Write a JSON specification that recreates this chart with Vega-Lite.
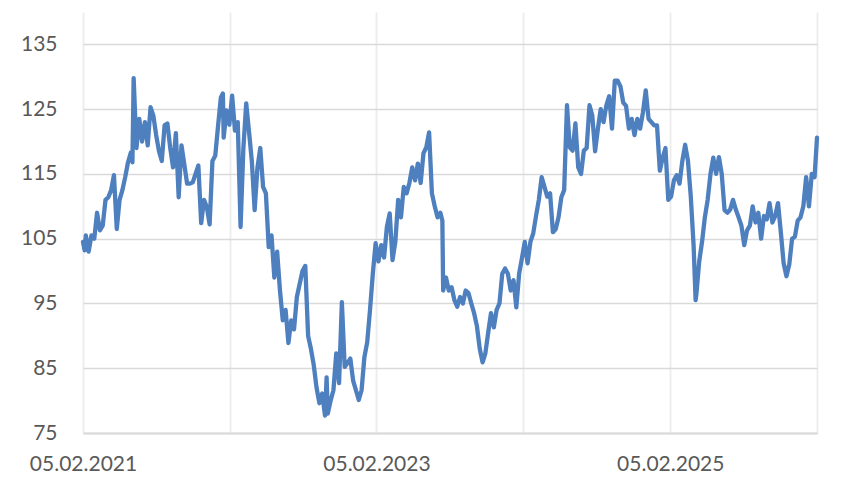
{
  "$schema": "https://vega.github.io/schema/vega-lite/v6.json",
  "autosize": {"type": "none"},
  "padding": {"left": 83, "top": 12, "right": 33, "bottom": 47},
  "width": 734,
  "height": 421,
  "background": "#ffffff",
  "config": {
    "view": {"stroke": null},
    "font": "Lato",
    "axis": {"labelFont": "Lato", "labelFontSize": 21, "labelColor": "#595959", "labelFontWeight": "normal", "title": null}
  },
  "data": {"values": [
    {"date":"2021-02-05","v":104.5},{"date":"2021-02-09","v":103.2},{"date":"2021-02-12","v":105.5},{"date":"2021-02-19","v":103},{"date":"2021-02-26","v":105.5},
    {"date":"2021-03-05","v":105},{"date":"2021-03-12","v":109},{"date":"2021-03-19","v":106.3},{"date":"2021-03-26","v":107},
    {"date":"2021-04-02","v":111},{"date":"2021-04-09","v":111.4},{"date":"2021-04-16","v":112.5},{"date":"2021-04-23","v":114.8},{"date":"2021-04-30","v":106.5},
    {"date":"2021-05-07","v":111},{"date":"2021-05-14","v":112.5},{"date":"2021-05-21","v":114.5},{"date":"2021-05-28","v":116.8},
    {"date":"2021-06-04","v":118.3},{"date":"2021-06-08","v":116.8},{"date":"2021-06-11","v":129.8},{"date":"2021-06-18","v":119},{"date":"2021-06-25","v":123.5},
    {"date":"2021-07-02","v":120},{"date":"2021-07-09","v":123},{"date":"2021-07-16","v":119.4},{"date":"2021-07-23","v":125.3},{"date":"2021-07-30","v":124},
    {"date":"2021-08-06","v":121},{"date":"2021-08-13","v":118.5},{"date":"2021-08-20","v":117},{"date":"2021-08-27","v":122.5},
    {"date":"2021-09-03","v":122.8},{"date":"2021-09-10","v":119},{"date":"2021-09-17","v":116},{"date":"2021-09-24","v":121.3},
    {"date":"2021-10-01","v":111.4},{"date":"2021-10-08","v":119.4},{"date":"2021-10-15","v":116.5},{"date":"2021-10-22","v":113.5},{"date":"2021-10-29","v":113.5},
    {"date":"2021-11-05","v":113.7},{"date":"2021-11-12","v":115},{"date":"2021-11-19","v":116.3},{"date":"2021-11-26","v":107.4},
    {"date":"2021-12-03","v":111},{"date":"2021-12-10","v":109.9},{"date":"2021-12-17","v":107.2},{"date":"2021-12-24","v":117},{"date":"2021-12-31","v":117.8},
    {"date":"2022-01-07","v":122.4},{"date":"2022-01-14","v":126.8},{"date":"2022-01-19","v":127.4},{"date":"2022-01-21","v":120.6},{"date":"2022-01-28","v":124.8},
    {"date":"2022-02-04","v":122.6},{"date":"2022-02-11","v":127.1},{"date":"2022-02-18","v":121.7},{"date":"2022-02-25","v":123},
    {"date":"2022-03-04","v":106.8},{"date":"2022-03-11","v":119},{"date":"2022-03-18","v":125.9},{"date":"2022-03-25","v":121.5},
    {"date":"2022-04-01","v":117},{"date":"2022-04-08","v":109.4},{"date":"2022-04-15","v":116},{"date":"2022-04-22","v":119},{"date":"2022-04-29","v":113},
    {"date":"2022-05-06","v":112},{"date":"2022-05-13","v":103.7},{"date":"2022-05-20","v":105.5},{"date":"2022-05-27","v":99},
    {"date":"2022-06-03","v":103},{"date":"2022-06-10","v":97},{"date":"2022-06-17","v":92.4},{"date":"2022-06-24","v":94},
    {"date":"2022-07-01","v":88.9},{"date":"2022-07-08","v":92.4},{"date":"2022-07-15","v":91},{"date":"2022-07-22","v":96},{"date":"2022-07-29","v":98},
    {"date":"2022-08-05","v":100},{"date":"2022-08-12","v":100.8},{"date":"2022-08-19","v":90},{"date":"2022-08-26","v":88},
    {"date":"2022-09-02","v":85.5},{"date":"2022-09-09","v":82},{"date":"2022-09-16","v":79.6},{"date":"2022-09-23","v":81.1},{"date":"2022-09-30","v":77.7},
    {"date":"2022-10-04","v":83.6},{"date":"2022-10-07","v":78},{"date":"2022-10-14","v":80},{"date":"2022-10-21","v":81.6},{"date":"2022-10-28","v":87.3},
    {"date":"2022-11-04","v":82.7},{"date":"2022-11-11","v":95.2},{"date":"2022-11-18","v":85.2},{"date":"2022-11-25","v":85.8},
    {"date":"2022-12-02","v":86.5},{"date":"2022-12-09","v":83.1},{"date":"2022-12-16","v":81.6},{"date":"2022-12-23","v":80.1},{"date":"2022-12-30","v":81.6},
    {"date":"2023-01-06","v":86.7},{"date":"2023-01-13","v":89},{"date":"2023-01-20","v":94},{"date":"2023-01-27","v":99.6},
    {"date":"2023-02-03","v":104.3},{"date":"2023-02-10","v":101.5},{"date":"2023-02-17","v":104},{"date":"2023-02-24","v":102.1},
    {"date":"2023-03-03","v":106.8},{"date":"2023-03-10","v":108.9},{"date":"2023-03-17","v":101.7},{"date":"2023-03-24","v":104.5},{"date":"2023-03-31","v":111},
    {"date":"2023-04-07","v":108.3},{"date":"2023-04-14","v":113},{"date":"2023-04-21","v":112},{"date":"2023-04-28","v":113.6},
    {"date":"2023-05-05","v":116},{"date":"2023-05-12","v":114},{"date":"2023-05-19","v":116.6},{"date":"2023-05-26","v":113.6},
    {"date":"2023-06-02","v":118.2},{"date":"2023-06-09","v":119.1},{"date":"2023-06-16","v":121.4},{"date":"2023-06-23","v":112},{"date":"2023-06-30","v":110},
    {"date":"2023-07-07","v":108.3},{"date":"2023-07-14","v":109},{"date":"2023-07-19","v":107.8},{"date":"2023-07-21","v":97},{"date":"2023-07-28","v":99},
    {"date":"2023-08-04","v":97},{"date":"2023-08-11","v":97.5},{"date":"2023-08-18","v":95.5},{"date":"2023-08-25","v":94.5},
    {"date":"2023-09-01","v":96},{"date":"2023-09-08","v":95},{"date":"2023-09-15","v":97},{"date":"2023-09-22","v":96.6},{"date":"2023-09-29","v":95},
    {"date":"2023-10-06","v":93.5},{"date":"2023-10-13","v":91.5},{"date":"2023-10-20","v":88},{"date":"2023-10-27","v":85.9},
    {"date":"2023-11-03","v":87.3},{"date":"2023-11-10","v":90.5},{"date":"2023-11-17","v":93.5},{"date":"2023-11-24","v":91.3},
    {"date":"2023-12-01","v":94},{"date":"2023-12-08","v":95},{"date":"2023-12-15","v":99.6},{"date":"2023-12-22","v":100.4},{"date":"2023-12-29","v":99.6},
    {"date":"2024-01-05","v":97},{"date":"2024-01-12","v":98.6},{"date":"2024-01-19","v":94.4},{"date":"2024-01-26","v":99.6},
    {"date":"2024-02-02","v":102},{"date":"2024-02-09","v":104.5},{"date":"2024-02-16","v":101.2},{"date":"2024-02-23","v":104.5},
    {"date":"2024-03-01","v":105.8},{"date":"2024-03-08","v":108.5},{"date":"2024-03-15","v":111},{"date":"2024-03-22","v":114.5},{"date":"2024-03-29","v":113},
    {"date":"2024-04-05","v":111.5},{"date":"2024-04-12","v":112},{"date":"2024-04-19","v":106},{"date":"2024-04-26","v":106.5},
    {"date":"2024-05-03","v":108.3},{"date":"2024-05-10","v":111.4},{"date":"2024-05-17","v":112.5},{"date":"2024-05-24","v":125.6},{"date":"2024-05-31","v":119.1},
    {"date":"2024-06-07","v":118.6},{"date":"2024-06-14","v":122.8},{"date":"2024-06-21","v":116},{"date":"2024-06-28","v":115},
    {"date":"2024-07-05","v":118.6},{"date":"2024-07-12","v":119},{"date":"2024-07-19","v":125.6},{"date":"2024-07-26","v":124},
    {"date":"2024-08-02","v":118.5},{"date":"2024-08-09","v":122},{"date":"2024-08-16","v":125},{"date":"2024-08-23","v":123},{"date":"2024-08-30","v":125.6},
    {"date":"2024-09-06","v":127},{"date":"2024-09-13","v":122},{"date":"2024-09-20","v":129.4},{"date":"2024-09-27","v":129.4},
    {"date":"2024-10-04","v":128.5},{"date":"2024-10-11","v":126},{"date":"2024-10-18","v":125.5},{"date":"2024-10-25","v":122},
    {"date":"2024-11-01","v":123.5},{"date":"2024-11-08","v":121},{"date":"2024-11-15","v":123.5},{"date":"2024-11-22","v":122},{"date":"2024-11-29","v":124.5},
    {"date":"2024-12-06","v":127.9},{"date":"2024-12-13","v":123.5},{"date":"2024-12-20","v":123},{"date":"2024-12-27","v":122.5},
    {"date":"2025-01-03","v":122.5},{"date":"2025-01-10","v":115.5},{"date":"2025-01-17","v":117.5},{"date":"2025-01-24","v":119},{"date":"2025-01-31","v":111},
    {"date":"2025-02-07","v":111.5},{"date":"2025-02-14","v":114},{"date":"2025-02-21","v":114.8},{"date":"2025-02-28","v":113.5},
    {"date":"2025-03-07","v":117},{"date":"2025-03-14","v":119.5},{"date":"2025-03-21","v":117},{"date":"2025-03-28","v":111.5},
    {"date":"2025-04-04","v":104},{"date":"2025-04-09","v":95.5},{"date":"2025-04-11","v":96.5},{"date":"2025-04-18","v":101.5},{"date":"2025-04-25","v":104.5},
    {"date":"2025-05-02","v":108.3},{"date":"2025-05-09","v":111},{"date":"2025-05-16","v":115},{"date":"2025-05-23","v":117.5},{"date":"2025-05-30","v":115},
    {"date":"2025-06-06","v":117.6},{"date":"2025-06-13","v":115},{"date":"2025-06-20","v":109.4},{"date":"2025-06-27","v":109},
    {"date":"2025-07-04","v":109.5},{"date":"2025-07-11","v":111},{"date":"2025-07-18","v":109.5},{"date":"2025-07-25","v":108.3},
    {"date":"2025-08-01","v":107},{"date":"2025-08-08","v":104},{"date":"2025-08-15","v":106.3},{"date":"2025-08-22","v":107},{"date":"2025-08-29","v":110},
    {"date":"2025-09-05","v":107.5},{"date":"2025-09-12","v":109},{"date":"2025-09-19","v":105},{"date":"2025-09-26","v":108.5},
    {"date":"2025-10-03","v":108},{"date":"2025-10-10","v":110.5},{"date":"2025-10-17","v":107.5},{"date":"2025-10-24","v":108.5},{"date":"2025-10-31","v":110.5},
    {"date":"2025-11-07","v":106},{"date":"2025-11-14","v":101.2},{"date":"2025-11-21","v":99.2},{"date":"2025-11-28","v":101},
    {"date":"2025-12-05","v":105},{"date":"2025-12-12","v":105.3},{"date":"2025-12-19","v":107.8},{"date":"2025-12-26","v":108.3},
    {"date":"2026-01-02","v":110},{"date":"2026-01-09","v":114.5},{"date":"2026-01-16","v":110},{"date":"2026-01-23","v":115},{"date":"2026-01-30","v":114.5},
    {"date":"2026-02-05","v":120.6}
  ]},
  "mark": {"type": "line", "color": "#4E7FBE", "strokeWidth": 4.3, "strokeJoin": "round", "strokeCap": "round", "clip": false},
  "encoding": {
    "x": {
      "field": "date",
      "type": "temporal",
      "scale": {
        "type": "utc",
        "domain": [{"year": 2021, "month": 2, "date": 5, "utc": true}, {"year": 2026, "month": 2, "date": 5, "utc": true}]
      },
      "axis": {
        "values": [
          {"year": 2021, "month": 2, "date": 5, "utc": true},
          {"year": 2022, "month": 2, "date": 5, "utc": true},
          {"year": 2023, "month": 2, "date": 5, "utc": true},
          {"year": 2024, "month": 2, "date": 5, "utc": true},
          {"year": 2025, "month": 2, "date": 5, "utc": true},
          {"year": 2026, "month": 2, "date": 5, "utc": true}
        ],
        "labelExpr": "(utcyear(datum.value) % 2 == 1 && utcyear(datum.value) < 2026) ? utcFormat(datum.value, '%d.%m.%Y') : ''",
        "labelFlush": false,
        "labelOverlap": false,
        "labelBound": false,
        "labelAngle": 0,
        "labelPadding": 20,
        "ticks": false,
        "domain": true,
        "domainColor": "#d9d9d9",
        "domainWidth": 2,
        "grid": true,
        "gridColor": "#ececec",
        "gridWidth": 1.8,
        "zindex": 0
      }
    },
    "y": {
      "field": "v",
      "type": "quantitative",
      "scale": {"domain": [75, 140], "nice": false, "zero": false},
      "axis": {
        "values": [75, 85, 95, 105, 115, 125, 135],
        "ticks": false,
        "domain": false,
        "grid": true,
        "gridColor": "#d9d9d9",
        "gridWidth": 1.5,
        "labelPadding": 26,
        "labelAlign": "right",
        "labelBaseline": "middle",
        "zindex": 0
      }
    }
  }
}
